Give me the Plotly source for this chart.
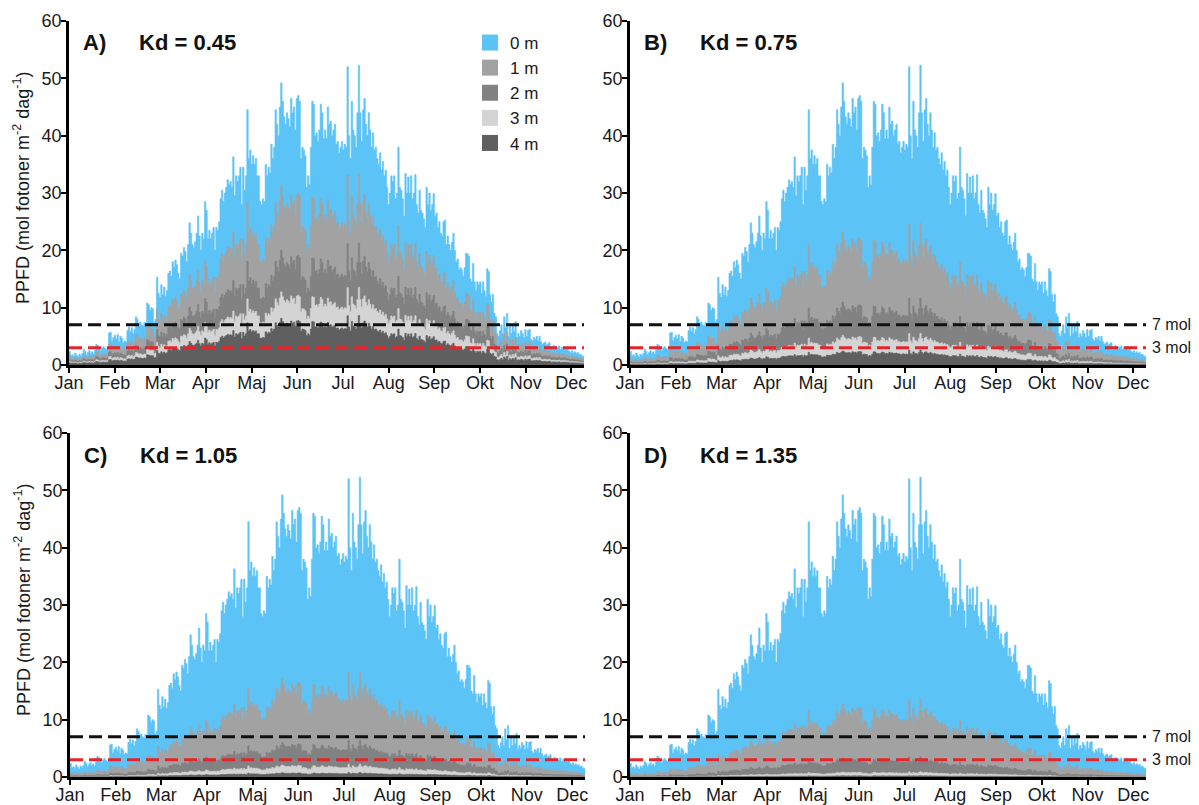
import numpy as np
import plotly.graph_objects as go

months = ["Jan", "Feb", "Mar", "Apr", "Maj", "Jun", "Jul", "Aug", "Sep", "Okt", "Nov", "Dec"]
depths = [0, 1, 2, 3, 4]
depth_labels = ["0 m", "1 m", "2 m", "3 m", "4 m"]
kd_values = [0.45, 0.75, 1.05, 1.35]
panel_letters = ["A)", "B)", "C)", "D)"]
thresholds = [7, 3]
threshold_labels = ["7 mol", "3 mol"]

# Surface PPFD (0 m), daily values
surface = [
    2.4, 1.6, 1.8, 1.5, 2.1, 1.7, 1.4, 1.9, 1.6, 2.0,
    2.7, 2.4, 1.8, 2.2, 2.5, 2.0, 2.3, 1.9, 2.6, 3.6,
    3.4, 2.8, 2.5, 3.0, 3.2, 2.9, 2.7, 3.1, 5.6, 5.7,
    4.2, 4.8, 5.2, 4.6, 5.3, 4.1, 5.0, 4.7, 3.9, 4.2,
    4.0, 6.0, 6.6, 5.8, 6.5, 5.5, 6.2, 8.4, 8.0, 7.2,
    7.5, 7.0, 6.8, 7.4, 7.2, 10.8, 10.5, 9.5, 10.0, 9.8,
    7.5, 8.0, 15.3, 12.5, 11.8, 14.0, 12.2, 13.6, 12.0, 13.0,
    16.0, 16.4, 15.5, 18.0, 17.0, 18.3, 17.5, 16.0, 15.0, 19.5,
    19.0, 20.5, 19.8, 18.0, 21.0, 24.8, 23.0, 21.0, 20.5, 21.5,
    23.0, 26.0, 22.5, 20.0, 23.0, 22.0, 28.5, 27.0, 22.0, 23.5,
    22.0, 23.0, 24.0, 20.0, 24.0, 23.5, 25.0, 29.0, 30.5, 28.5,
    30.0, 31.0, 32.3, 31.5, 32.0, 31.0, 36.3, 29.5, 33.0, 32.0,
    33.0, 34.5, 28.0, 34.5, 30.5, 33.0, 44.5, 36.0, 37.5, 35.0,
    36.5, 35.0, 36.0, 33.0, 33.0, 28.5, 28.0, 29.0, 28.5, 35.0,
    33.0, 34.5, 33.5, 38.5, 36.0, 38.0, 44.5, 42.0, 40.0, 45.0,
    49.2, 46.0, 43.3, 42.0, 44.0, 43.0, 41.5, 46.5, 44.0, 45.0,
    41.0, 46.5, 47.0, 46.0, 36.0, 38.0, 37.5, 36.5, 31.0, 33.0,
    31.5, 38.0, 46.0, 45.5, 40.0, 40.5, 39.0, 41.0, 45.5, 44.0,
    39.5, 41.0, 39.5, 45.0, 42.0, 42.5, 40.0, 41.0, 42.0, 38.5,
    39.0, 37.0, 38.0, 39.0, 37.5, 38.5, 38.0, 52.0, 40.0, 36.0,
    46.0, 41.0, 40.0, 38.0, 44.0, 52.3, 44.0, 39.0, 44.5, 46.5,
    42.0, 40.0, 44.0, 41.0, 38.0, 40.5, 37.5, 38.0, 36.0, 35.0,
    37.0, 34.0, 35.5, 33.0, 34.0, 31.0, 28.0, 30.0, 33.0, 32.0,
    33.0, 29.0, 30.0, 38.0, 31.0, 30.5, 29.0, 26.0, 33.4, 30.0,
    32.8, 30.0, 33.0, 29.0, 30.0, 33.2, 28.0, 26.5, 30.5, 27.0,
    26.5, 25.5, 24.0, 31.0, 28.0, 30.0, 27.0, 28.0, 29.9, 26.0,
    26.5, 24.0, 25.0, 23.0, 22.5, 25.0, 25.3, 21.0, 22.5, 21.0,
    20.0, 21.4, 23.0, 20.0, 18.0, 18.5, 16.6, 17.0, 16.6, 15.5,
    17.0, 19.5, 19.4, 19.0, 15.0, 14.5, 17.7, 14.5, 13.0, 14.5,
    14.0, 14.5, 12.5, 14.5, 13.0, 12.0, 16.8, 16.3, 12.3, 11.0,
    12.3, 9.0, 8.4, 5.5, 5.0, 6.0, 7.0, 5.5, 8.4, 6.5,
    9.0, 5.0, 6.8, 5.5, 7.0, 5.8, 7.6, 4.8, 5.5, 5.0,
    6.0, 5.5, 4.8, 6.2, 5.0, 6.0, 6.2, 4.5, 4.2, 4.8,
    4.5, 5.0, 4.2, 5.0, 4.1, 3.6, 3.8, 4.0, 3.5, 3.7,
    3.9, 3.2, 3.0, 3.4, 2.8, 3.2, 3.0, 3.3, 2.7, 3.1,
    2.9, 3.2, 2.6, 2.8, 2.4, 2.2, 2.5, 2.1, 2.3, 2.0,
    2.2, 1.8, 1.9, 1.6, 1.5,
]

colors = ["#5CC3F7", "#A2A2A2", "#828282", "#D4D4D4", "#5F5F5F"]
thr_colors = ["#111111", "#E2262B"]

OFF = 8  # page body margin of the html page
W, H = 1199 - OFF, 805 - OFF
FONT = "Liberation Sans, Arial, Helvetica, sans-serif"

# pixel boxes of plot areas in the screenshot: (left, right, top, bottom)
boxes_page = [(69, 584, 21, 365), (630, 1146, 21, 365), (70, 585, 433, 777), (630, 1146, 433, 777)]
boxes = [(l - OFF, r - OFF, t - OFF, b - OFF) for (l, r, t, b) in boxes_page]

ndays = len(surface)
days = np.arange(ndays + 1)
surf = np.array(surface + [surface[-1]], dtype=float)
tickvals = np.linspace(0, 356, 12)

fig = go.Figure()
layout = dict(
    width=W, height=H, margin=dict(l=0, r=0, t=0, b=0, pad=0, autoexpand=False),
    paper_bgcolor="white", plot_bgcolor="white",
    font=dict(family=FONT, color="#1a1a1a", size=18),
    showlegend=True,
)
annotations = []

for i, kd in enumerate(kd_values):
    n = i + 1
    xa = "x" if n == 1 else f"x{n}"
    ya = "y" if n == 1 else f"y{n}"
    l, r, t, b = boxes[i]
    for j, z in enumerate(depths):
        vals = surf * np.exp(-kd * z)
        fig.add_trace(go.Scatter(
            x=days, y=vals, mode="lines", line=dict(shape="hv", width=0.6, color=colors[j]),
            fill="tozeroy", fillcolor=colors[j], xaxis=xa, yaxis=ya,
            showlegend=False, hoverinfo="skip",
        ))
    for k, thr in enumerate(thresholds):
        fig.add_trace(go.Scatter(
            x=[0, ndays], y=[thr, thr], mode="lines",
            line=dict(color=thr_colors[k], width=3, dash="13px,6px"),
            xaxis=xa, yaxis=ya, showlegend=False, hoverinfo="skip",
        ))
    axis_common = dict(
        showline=True, linewidth=2.5, linecolor="black", ticks="outside",
        ticklen=5, tickwidth=2, tickcolor="black", showgrid=False, zeroline=False,
        tickfont=dict(size=18, family=FONT, color="#1a1a1a"), automargin=False,
    )
    layout["xaxis" if n == 1 else f"xaxis{n}"] = dict(
        domain=[l / W, r / W], range=[0, ndays], anchor=ya, ticklabelstandoff=-5,
        tickmode="array", tickvals=tickvals, ticktext=months, **axis_common,
    )
    layout["yaxis" if n == 1 else f"yaxis{n}"] = dict(
        domain=[1 - b / H, 1 - t / H], range=[0, 60], anchor=xa, ticklabelstandoff=-4,
        tickmode="array", tickvals=list(range(0, 61, 10)), **axis_common,
    )
    xd = f"{xa} domain"
    yd = f"{ya} domain"
    annotations.append(dict(text=f"<b>{panel_letters[i]}</b>", xref=xd, yref=yd,
                            x=12 / (r - l), y=1 - 22 / (b - t), xanchor="left", yanchor="middle",
                            showarrow=False, font=dict(size=22, family=FONT, color="#111")))
    annotations.append(dict(text=f"<b>Kd = {kd:.2f}</b>", xref=xd, yref=yd,
                            x=68 / (r - l), y=1 - 22 / (b - t), xanchor="left", yanchor="middle",
                            showarrow=False, font=dict(size=22, family=FONT, color="#111")))
    if n in (1, 3):
        annotations.append(dict(text="PPFD (mol fotoner m<sup>-2</sup> dag<sup>-1</sup>)",
                                xref="paper", yref=yd, x=(22 - OFF) / W, y=0.5 + 5 / (b - t),
                                textangle=-90, xanchor="center", yanchor="middle", showarrow=False,
                                font=dict(size=18, family=FONT, color="#1a1a1a")))
    if n in (2, 4):
        for k, thr in enumerate(thresholds):
            annotations.append(dict(text=threshold_labels[k], xref="paper", yref=ya,
                                    x=(1150 - OFF) / W, y=thr, xanchor="left", yanchor="middle",
                                    showarrow=False, font=dict(size=16, family=FONT, color="#1a1a1a")))

# legend entries (panel A)
for j, lab in enumerate(depth_labels):
    fig.add_trace(go.Scatter(
        x=[None], y=[None], mode="markers", name=lab,
        marker=dict(symbol="square", size=16, color=colors[j]),
        xaxis="x", yaxis="y", showlegend=True,
    ))

layout["legend"] = dict(x=(470 - OFF) / W, y=1 - (25 - OFF) / H, xanchor="left", yanchor="top",
                        bgcolor="rgba(255,255,255,0)", font=dict(size=17, family=FONT),
                        itemsizing="trace", tracegroupgap=0)
layout["annotations"] = annotations
fig.update_layout(**layout)
fig.write_html("out.html")
